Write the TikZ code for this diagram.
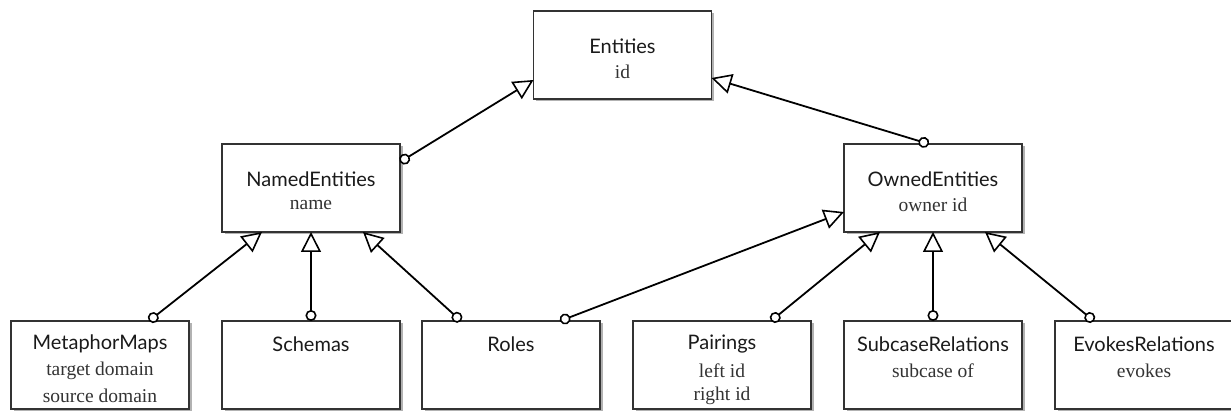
\documentclass[tikz,border=0pt]{standalone}
\usepackage{fontspec}
\newfontfamily\titlefont{Lato}
\newfontfamily\attrfont{Liberation Serif}
\usetikzlibrary{arrows.meta,shadows,calc}
\definecolor{boxline}{HTML}{333333}
\definecolor{titlecol}{HTML}{1a1a1a}
\definecolor{attrcol}{HTML}{333333}
\tikzset{
  entbox/.style={draw=boxline, line width=1.3pt, fill=white, minimum width=178pt, minimum height=88pt, inner sep=0pt, outer sep=0pt,
    drop shadow={shadow xshift=2.5pt, shadow yshift=-2.5pt, opacity=0.3, fill=black}},
  ttl/.style={font=\titlefont\fontsize{20}{23}\selectfont, text=titlecol, inner sep=0pt, anchor=center},
  attr/.style={font=\attrfont\fontsize{19.5}{22}\selectfont, text=attrcol, inner sep=0pt, anchor=center},
  inherit/.style={line width=1.8pt, black, {Circle[open, length=11pt, width=11pt, fill=white, line width=1.6pt]}-{Triangle[open, length=20pt, width=20pt, fill=white, line width=1.6pt]}}
}
\begin{document}
\begin{tikzpicture}[x=1pt,y=-1pt]
\useasboundingbox (0,0) rectangle (1231,411);
% boxes
\node[entbox] (ent) at (622.5,55) {};
\node[entbox] (named) at (311,188) {};
\node[entbox] (owned) at (933,188) {};
\node[entbox] (meta) at (100,365) {};
\node[entbox] (schemas) at (311,365) {};
\node[entbox] (roles) at (511,365) {};
\node[entbox] (pair) at (722,365) {};
\node[entbox] (subcase) at (933,365) {};
\node[entbox] (evokes) at (1144,365) {};
% texts
\node[ttl] (entT) at ([yshift=-35pt]ent.north) {Entities};
\node[attr] (entA) at ([yshift=-61pt]ent.north) {id};
\node[ttl] (namedT) at ([yshift=-35pt]named.north) {NamedEntities};
\node[attr] (namedA) at ([yshift=-61pt]named.north) {name};
\node[ttl] (ownedT) at ([yshift=-35pt]owned.north) {OwnedEntities};
\node[attr] (ownedA) at ([yshift=-61pt]owned.north) {owner id};
\node[ttl] (metaT) at ([yshift=-23pt]meta.north) {MetaphorMaps};
\node[attr] (metaA) at ([yshift=-50pt]meta.north) {target domain};
\node[attr] (metaB) at ([yshift=-75pt]meta.north) {source domain};
\node[ttl] (schemasT) at ([yshift=-23pt]schemas.north) {Schemas};
\node[ttl] (rolesT) at ([yshift=-23pt]roles.north) {Roles};
\node[ttl] (pairT) at ([yshift=-23pt]pair.north) {Pairings};
\node[attr] (pairA) at ([yshift=-50pt]pair.north) {left id};
\node[attr] (pairB) at ([yshift=-75pt]pair.north) {right id};
\node[ttl] (subcaseT) at ([yshift=-23pt]subcase.north) {SubcaseRelations};
\node[attr] (subcaseA) at ([yshift=-50pt]subcase.north) {subcase of};
\node[ttl] (evokesT) at ([yshift=-23pt]evokes.north) {EvokesRelations};
\node[attr] (evokesA) at ([yshift=-50pt]evokes.north) {evokes};
% connectors
\draw[inherit] ([yshift=-18pt]named.north east) -- ([yshift=19pt]ent.south west);
\draw[inherit] ([xshift=-4pt]owned.north) -- ([yshift=21pt]ent.south east);
\draw[inherit] ([xshift=-40pt]meta.north east) -- ([xshift=40pt]named.south west);
\draw[inherit] (schemas.north) -- (named.south);
\draw[inherit] ([xshift=39pt]roles.north west) -- ([xshift=-37pt]named.south east);
\draw[inherit] ([xshift=-40pt]roles.north east) -- ([yshift=20pt]owned.south west);
\draw[inherit] ([xshift=-40pt]pair.north east) -- ([xshift=36pt]owned.south west);
\draw[inherit] (subcase.north) -- (owned.south);
\draw[inherit] ([xshift=39pt]evokes.north west) -- ([xshift=-37pt]owned.south east);
\end{tikzpicture}
\end{document}
